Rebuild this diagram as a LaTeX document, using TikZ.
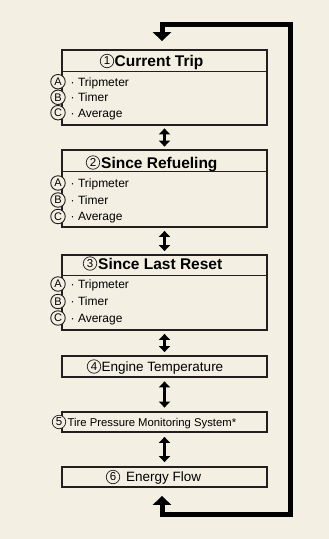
\documentclass[tikz,border=0pt]{standalone}
\usepackage{fontspec}
\setmainfont{Liberation Sans}
\usetikzlibrary{arrows.meta}
\definecolor{bg}{RGB}{243,239,227}
\definecolor{ink}{RGB}{35,31,32}
\begin{document}
\begin{tikzpicture}[x=1pt,y=-1pt,
 box/.style={draw=ink,line width=1.8pt,fill=bg,minimum width=205pt,inner sep=0pt},
 divline/.style={draw=ink,line width=0.9pt},
 cnum/.style={circle,draw=ink,line width=0.7pt,fill=bg,minimum size=13.5pt,inner sep=0pt,font=\fontsize{11.5}{11.5}\selectfont},
 clet/.style={circle,draw=ink,line width=0.9pt,fill=bg,minimum size=14.5pt,inner sep=0pt,font=\fontsize{11}{11}\selectfont},
 hdr/.style={anchor=base west,inner sep=0pt,font=\bfseries\fontsize{15.5}{15.5}\selectfont},
 itemtxt/.style={anchor=base west,inner sep=0pt,font=\fontsize{12}{12}\selectfont},
 boxtxt/.style={anchor=base west,inner sep=0pt,font=\fontsize{13.5}{13.5}\selectfont},
 dbl/.style={{Triangle[width=11pt,length=6pt]}-{Triangle[width=11pt,length=6pt]},line width=2.8pt,draw=black},
 loopline/.style={{Triangle[width=18pt,length=9pt]}-{Triangle[width=18pt,length=9pt]},line width=5pt,line join=miter,draw=black}
]
\fill[bg] (0,0) rectangle (329,539);
\useasboundingbox (0,0) rectangle (329,539);

% boxes
\node[box,minimum height=75pt] (b1) at (164.5,87.5) {};
\node[box,minimum height=77pt] (b2) at (164.5,188.5) {};
\node[box,minimum height=75pt] (b3) at (164.5,292.5) {};
\node[box,minimum height=21pt] (b4) at (164.5,366.5) {};
\node[box,minimum height=20pt] (b5) at (164.5,422) {};
\node[box,minimum height=20pt] (b6) at (164.5,477) {};

% header dividers
\coordinate (d1) at (0,71);
\coordinate (d2) at (0,171);
\coordinate (d3) at (0,275);
\draw[divline] (b1.west |- d1) -- (b1.east |- d1);
\draw[divline] (b2.west |- d2) -- (b2.east |- d2);
\draw[divline] (b3.west |- d3) -- (b3.east |- d3);

% headers
\node[cnum] (n1) at (107,61) {1};
\node[hdr] (h1) at (114.5,66.5) {Current Trip};
\node[cnum] (n2) at (93,162.5) {2};
\node[hdr] (h2) at (101,168) {Since Refueling};
\node[cnum] (n3) at (90,263.5) {3};
\node[hdr] (h3) at (98,269) {Since Last Reset};

% items box 1
\node[clet] (a1) at (58,81.7) {A};
\node[itemtxt] (ta1) at (70.5,86) {· Tripmeter};
\node[clet] (bb1) at (58,97.3) {B};
\node[itemtxt] (tb1) at (70.5,101.6) {· Timer};
\node[clet] (c1) at (58,112.7) {C};
\node[itemtxt] (tc1) at (70.5,117) {· Average};
% items box 2
\node[clet] (a2) at (58,183) {A};
\node[itemtxt] (ta2) at (70.5,187.3) {· Tripmeter};
\node[clet] (bb2) at (58,200) {B};
\node[itemtxt] (tb2) at (70.5,204.3) {· Timer};
\node[clet] (c2) at (58,216.5) {C};
\node[itemtxt] (tc2) at (70.5,220.8) {· Average};
% items box 3
\node[clet] (a3) at (58,284) {A};
\node[itemtxt] (ta3) at (70.5,288.3) {· Tripmeter};
\node[clet] (bb3) at (58,301.5) {B};
\node[itemtxt] (tb3) at (70.5,305.8) {· Timer};
\node[clet] (c3) at (58,318) {C};
\node[itemtxt] (tc3) at (70.5,322.3) {· Average};

% single-line boxes
\node[cnum] (n4) at (94,366.5) {4};
\node[boxtxt] (t4) at (101.5,371.3) {Engine Temperature};
\node[cnum] (n5) at (59,422) {5};
\node[boxtxt,font=\fontsize{11.3}{11.3}\selectfont] (t5) at (67.5,426) {Tire Pressure Monitoring System*};
\node[cnum] (n6) at (113,477) {6};
\node[boxtxt] (t6) at (126,481.8) {Energy Flow};

% double arrows
\draw[dbl] ([yshift=-2.5pt]b1.south) -- ([yshift=2.5pt]b2.north);
\draw[dbl] ([yshift=-3pt]b2.south) -- ([yshift=3pt]b3.north);
\draw[dbl] ([yshift=-3pt]b3.south) -- ([yshift=3pt]b4.north);
\draw[dbl] ([yshift=-3.5pt]b4.south) -- ([yshift=3.5pt]b5.north);
\draw[dbl] ([yshift=-4pt]b5.south) -- ([yshift=4pt]b6.north);

% return loop
\coordinate (tl) at (162,24);
\coordinate (tr) at (290,24);
\coordinate (br) at (290,514);
\coordinate (bl) at (162,514);
\draw[loopline] ([yshift=8pt]b1.north -| tl) -- (tl) -- (tr) -- (br) -- (bl) -- ([yshift=-8pt]b6.south -| bl);
\end{tikzpicture}
\end{document}
